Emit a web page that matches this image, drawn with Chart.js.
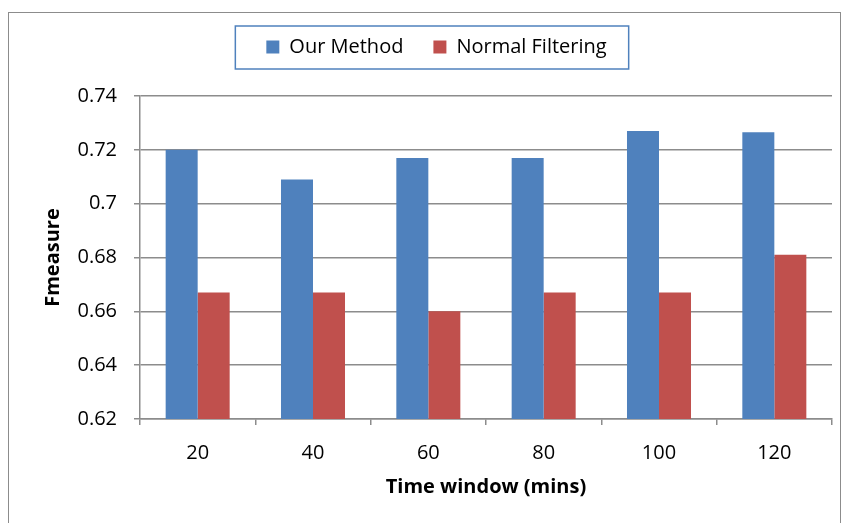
<!DOCTYPE html>
<html>
<head>
<meta charset="utf-8">
<script src="https://cdn.jsdelivr.net/npm/chart.js@4/dist/chart.umd.min.js"></script>
<style>
  html, body { margin: 0; padding: 0; background: #fff; }
  #wrap { position: relative; width: 844px; height: 523px; }
  #frame { position: absolute; left: 8px; top: 12px; width: 833px; height: 520px; border: 1.5px solid #8c8c8c; box-sizing: border-box; }
  canvas { position: absolute; left: 0; top: 0; }
</style>
</head>
<body>
<div id="wrap">
  <div id="frame"></div>
  <canvas id="chart" width="844" height="523"></canvas>
</div>
<script>
// time windows (mins) and F-measure values
let windows = ['20', '40', '60', '80', '100', '120'];
let ourMethod = [0.720, 0.709, 0.717, 0.717, 0.727, 0.7265];
let normalFiltering = [0.667, 0.667, 0.660, 0.667, 0.667, 0.681];
let yMin = 0.62, yMax = 0.74, yStep = 0.02;

let gray = '#8c8c8c';
Chart.defaults.font.family = '"Open Sans", sans-serif';
Chart.defaults.color = '#000';

// push chart area down below the legend, and box the legend
let legendBox = {
  id: 'legendBox',
  beforeInit(chart) {
    let fit = chart.legend.fit;
    chart.legend.fit = function() {
      fit.bind(chart.legend)();
      this.height += 29;
    };
  },
  afterDraw(chart) {
    let boxes = chart.legend.legendHitBoxes;
    if (!boxes || !boxes.length) return;
    let first = boxes[0], last = boxes[boxes.length - 1];
    let ctx = chart.ctx;
    ctx.save();
    ctx.strokeStyle = '#4f81bd';
    ctx.lineWidth = 1.5;
    ctx.strokeRect(first.left - 31, first.top - 11, (last.left + last.width + 22) - (first.left - 31), first.height + 23);
    ctx.restore();
  }
};

new Chart('chart', {
  type: 'bar',
  data: {
    labels: windows,
    datasets: [{
      label: 'Our Method',
      data: ourMethod,
      backgroundColor: '#4f81bd'
    }, {
      label: 'Normal Filtering',
      data: normalFiltering,
      backgroundColor: '#c0504d'
    }]
  },
  options: {
    responsive: false,
    animation: false,
    layout: { padding: { left: 41, right: 12, top: 7, bottom: 24 } },
    datasets: { bar: { barPercentage: 1, categoryPercentage: 0.555 } },
    plugins: {
      legend: {
        position: 'top',
        labels: { boxWidth: 13, boxHeight: 13, padding: 30, font: { size: 20 } }
      },
      tooltip: { enabled: false }
    },
    scales: {
      x: {
        grid: { offset: true, drawOnChartArea: false, tickLength: 6, color: gray, lineWidth: 1.5 },
        border: { color: gray, width: 1.5 },
        ticks: { padding: 16, font: { size: 20 } },
        title: { display: true, text: 'Time window (mins)', font: { size: 20, weight: 'bold' }, padding: { top: 0, bottom: 0 } },
        afterFit: function(scale) { scale.height = 80; }
      },
      y: {
        min: yMin,
        max: yMax,
        grid: { tickLength: 6, color: gray, lineWidth: 1.5 },
        border: { color: gray, width: 1.5 },
        ticks: {
          stepSize: yStep,
          padding: 17,
          font: { size: 20 },
          callback: function(v) { return String(+v.toFixed(2)); }
        },
        title: { display: true, text: 'Fmeasure', font: { size: 20, weight: 'bold' }, padding: { top: 0, bottom: 0 } },
        afterFit: function(scale) { scale.width = 99; }
      }
    }
  },
  plugins: [legendBox]
});
</script>
</body>
</html>
